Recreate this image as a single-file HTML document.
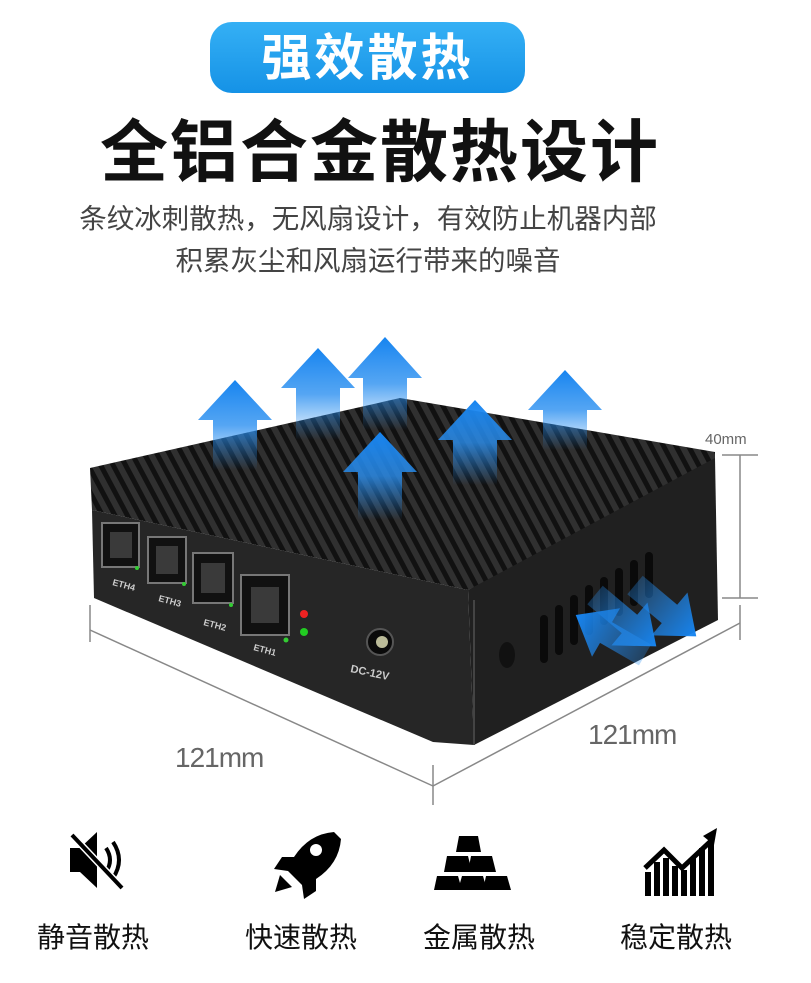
<!DOCTYPE html>
<html><head><meta charset="utf-8">
<style>
body{margin:0;width:811px;height:983px;background:#fff;overflow:hidden;position:relative;font-family:"Liberation Sans","Noto Sans CJK SC",sans-serif}
.t{position:absolute;white-space:nowrap}
</style></head><body>
<div style="position:absolute;left:210px;top:22px;width:315px;height:71px;border-radius:22px;background:linear-gradient(#35b0f5,#1592e6)"></div>
<div class="t" style="left:210px;top:26px;width:315px;text-align:center;color:#fff;font-size:50px;font-weight:bold;line-height:64px;letter-spacing:3px">强效散热</div>
<div class="t" style="left:60px;top:108px;width:640px;text-align:center;color:#111;font-size:68px;font-weight:bold;line-height:90px;letter-spacing:2px">全铝合金散热设计</div>
<div class="t" style="left:40px;top:202px;width:656px;text-align:center;color:#444;font-size:27.5px;line-height:34px">条纹冰刺散热，无风扇设计，有效防止机器内部</div>
<div class="t" style="left:40px;top:244px;width:656px;text-align:center;color:#444;font-size:27.5px;line-height:34px">积累灰尘和风扇运行带来的噪音</div>

<svg style="position:absolute;left:0;top:0" width="811" height="983">
<defs>
<linearGradient id="ua" x1="0" y1="1" x2="0" y2="0"><stop offset="0" stop-color="#2a8ff0" stop-opacity="0"/><stop offset="0.5" stop-color="#2a8ff0" stop-opacity="0.8"/><stop offset="1" stop-color="#1684f0"/></linearGradient>
<linearGradient id="ra" x1="0" y1="0" x2="1" y2="0"><stop offset="0" stop-color="#2a8ff0" stop-opacity="0.3"/><stop offset="1" stop-color="#1684f0"/></linearGradient>
<pattern id="fins" width="11" height="11" patternUnits="userSpaceOnUse" patternTransform="rotate(-28)"><rect width="11" height="11" fill="#303030"/><rect width="5" height="11" fill="#111"/></pattern>
</defs>
<g stroke="#888" stroke-width="1.5" fill="none">
<line x1="90" y1="605" x2="90" y2="642"/><line x1="90" y1="630" x2="433" y2="786"/>
<line x1="433" y1="765" x2="433" y2="805"/><line x1="433" y1="786" x2="740" y2="623"/>
<line x1="740" y1="605" x2="740" y2="640"/>
<line x1="740" y1="455" x2="740" y2="598"/><line x1="722" y1="455" x2="758" y2="455"/><line x1="722" y1="598" x2="758" y2="598"/>
</g>
<polygon points="90,468 400,398 715,452 715,470 468,590 92,510" fill="url(#fins)"/>
<polygon points="92,510 468,590 474,745 433,742 94,598" fill="#262626"/>
<polygon points="468,590 715,458 718,620 474,745" fill="#202020"/>
<line x1="474" y1="600" x2="474" y2="745" stroke="#444" stroke-width="2"/>
<g fill="#111" stroke="#777" stroke-width="2">
<rect x="102" y="523" width="37" height="44"/>
<rect x="148" y="537" width="38" height="46"/>
<rect x="193" y="553" width="40" height="50"/>
<rect x="241" y="575" width="48" height="60"/>
</g>
<g fill="#3a3a3a"><rect x="110" y="532" width="22" height="26"/><rect x="156" y="546" width="22" height="28"/><rect x="201" y="563" width="24" height="30"/><rect x="251" y="587" width="28" height="36"/></g>
<g fill="#3c3"><circle cx="137" cy="568" r="2"/><circle cx="184" cy="584" r="2"/><circle cx="231" cy="605" r="2"/><circle cx="286" cy="640" r="2.5"/></g>
<g fill="#ccc" font-size="9" font-weight="bold"><text x="112" y="585" transform="rotate(15 112 585)">ETH4</text><text x="158" y="601" transform="rotate(15 158 601)">ETH3</text><text x="203" y="625" transform="rotate(15 203 625)">ETH2</text><text x="253" y="650" transform="rotate(15 253 650)">ETH1</text>
<text x="350" y="672" font-size="11" transform="rotate(12 350 672)">DC-12V</text></g>
<circle cx="304" cy="614" r="4" fill="#e22"/><circle cx="304" cy="632" r="4" fill="#2c2"/>
<circle cx="380" cy="642" r="13" fill="#0a0a0a" stroke="#555" stroke-width="2"/><circle cx="382" cy="642" r="6" fill="#bb9"/>
<ellipse cx="507" cy="655" rx="8" ry="13" fill="#111"/>
<g fill="#0a0a0a"><rect x="540" y="615" width="8" height="48" rx="4"/><rect x="555" y="605" width="8" height="50" rx="4"/><rect x="570" y="595" width="8" height="50" rx="4"/><rect x="585" y="585" width="8" height="50" rx="4"/><rect x="600" y="577" width="8" height="48" rx="4"/><rect x="615" y="568" width="8" height="48" rx="4"/><rect x="630" y="560" width="8" height="46" rx="4"/><rect x="645" y="552" width="8" height="46" rx="4"/></g>
<g fill="url(#ua)">
<polygon points="213,470 213,420 198,420 235,380 272,420 257,420 257,470"/>
<polygon points="296,440 296,388 281,388 318,348 355,388 340,388 340,440"/>
<polygon points="363,430 363,378 348,378 385,337 422,378 407,378 407,430"/>
<polygon points="358,520 358,472 343,472 380,432 417,472 402,472 402,520"/>
<polygon points="453,485 453,440 438,440 475,400 512,440 497,440 497,485"/>
<polygon points="543,450 543,410 528,410 565,370 602,410 587,410 587,450"/>
</g>
<g fill="url(#ra)">
<polygon points="0,-12 45,-12 45,-28 80,0 45,28 45,12 0,12" transform="translate(635,585) rotate(40)"/>
<polygon points="0,-12 45,-12 45,-28 80,0 45,28 45,12 0,12" transform="translate(595,595) rotate(40)"/>
</g>
<g fill="url(#ra)">
<polygon points="0,-12 45,-12 45,-28 80,0 45,28 45,12 0,12" transform="translate(645,655) rotate(210)"/>
</g>
<g fill="#666" font-size="28" letter-spacing="-1"><text x="175" y="767">121mm</text><text x="588" y="744">121mm</text></g>
<text x="705" y="444" fill="#666" font-size="15">40mm</text>
<g fill="#000">
<polygon points="70,848 80,848 97,832 97,888 80,872 70,872"/>
<path d="M106,848 q8,12 0,24" stroke="#000" stroke-width="4" fill="none"/><path d="M113,842 q12,18 0,36" stroke="#000" stroke-width="4" fill="none"/>
<line x1="72" y1="835" x2="122" y2="888" stroke="#fff" stroke-width="7"/><line x1="72" y1="835" x2="122" y2="888" stroke="#000" stroke-width="4"/>
<path d="M334,832 q-25,2 -40,25 l-12,0 -8,12 14,2 14,14 2,14 12,-8 0,-12 q23,-15 25,-40z"/>
<circle cx="316" cy="850" r="6" fill="#fff"/><polygon points="280,875 292,887 275,892"/>
<polygon points="459,836 478,836 481,852 456,852"/>
<polygon points="447,856 468,856 472,872 444,872"/><polygon points="471,856 492,856 496,872 468,872"/>
<polygon points="437,876 458,876 462,890 434,890"/><polygon points="462,876 483,876 487,890 458,890"/><polygon points="486,876 507,876 511,890 483,890"/>
<rect x="645" y="872" width="6" height="24"/><rect x="654" y="862" width="6" height="34"/><rect x="663" y="858" width="6" height="38"/><rect x="672" y="866" width="6" height="30"/><rect x="681" y="870" width="6" height="26"/><rect x="690" y="858" width="6" height="38"/><rect x="699" y="848" width="6" height="48"/><rect x="708" y="838" width="6" height="58"/>
<polyline points="645,868 664,850 682,868 712,840" stroke="#000" stroke-width="5" fill="none"/><polygon points="703,836 717,828 714,845"/>
</g>
</svg>
<div class="t" style="left:37px;top:916px;font-size:28px;color:#111">静音散热</div>
<div class="t" style="left:245px;top:916px;font-size:28px;color:#111">快速散热</div>
<div class="t" style="left:423px;top:916px;font-size:28px;color:#111">金属散热</div>
<div class="t" style="left:620px;top:916px;font-size:28px;color:#111">稳定散热</div>
</body></html>
